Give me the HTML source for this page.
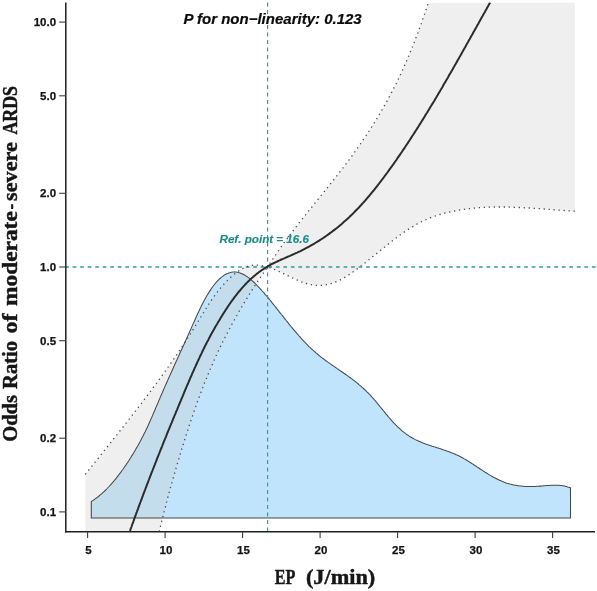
<!DOCTYPE html>
<html>
<head>
<meta charset="utf-8">
<title>RCS plot</title>
<style>
html, body { margin: 0; padding: 0; background: #ffffff; }
body { width: 597px; height: 591px; overflow: hidden; font-family: "Liberation Sans", sans-serif; }
svg { display: block; will-change: transform; }
text { font-family: "Liberation Sans", sans-serif; }
.tick text { font-size: 11.5px; font-weight: bold; fill: #141414; stroke: #141414; stroke-width: 0.25px; }
.serif, .serif text { font-family: "Liberation Serif", serif; font-weight: bold; fill: #161616; stroke: #161616; stroke-width: 0.45px; }
</style>
</head>
<body>
<svg width="597" height="591" viewBox="0 0 597 591">
<defs>
<clipPath id="plot"><rect x="65.8" y="2.4" width="531.2" height="529.3000000000001"/></clipPath>
</defs>
<rect x="0" y="0" width="597" height="591" fill="#ffffff"/>

<!-- density polygon -->
<path d="M91.3 517.9L91.3 501.5L92.3 500.9L93.2 500.3L94.2 499.6L95.1 498.9L96.1 498.3L97.1 497.5L98.0 496.8L99.0 496.0L99.9 495.2L100.9 494.4L101.9 493.6L102.8 492.7L103.8 491.8L104.7 490.9L105.7 490.0L106.7 489.0L107.6 488.0L108.6 487.0L109.5 486.0L110.5 484.9L111.5 483.8L112.4 482.7L113.4 481.6L114.3 480.5L115.3 479.3L116.3 478.1L117.2 476.9L118.2 475.7L119.1 474.4L120.1 473.2L121.1 471.9L122.0 470.5L123.0 469.2L124.0 467.8L124.9 466.4L125.9 465.0L126.8 463.6L127.8 462.2L128.8 460.7L129.7 459.2L130.7 457.7L131.6 456.1L132.6 454.6L133.6 453.0L134.5 451.4L135.5 449.8L136.4 448.1L137.4 446.5L138.4 444.7L139.3 443.0L140.3 441.3L141.2 439.5L142.2 437.6L143.2 435.8L144.1 433.8L145.1 431.9L146.0 429.9L147.0 427.9L148.0 425.8L148.9 423.7L149.9 421.5L150.8 419.4L151.8 417.2L152.8 414.9L153.7 412.7L154.7 410.5L155.6 408.2L156.6 405.9L157.6 403.7L158.5 401.4L159.5 399.2L160.4 396.9L161.4 394.7L162.4 392.5L163.3 390.3L164.3 388.1L165.2 385.9L166.2 383.7L167.2 381.6L168.1 379.4L169.1 377.2L170.0 375.1L171.0 373.0L172.0 370.8L172.9 368.7L173.9 366.6L174.8 364.4L175.8 362.3L176.8 360.2L177.7 358.1L178.7 356.0L179.6 353.8L180.6 351.7L181.6 349.6L182.5 347.5L183.5 345.4L184.5 343.2L185.4 341.1L186.4 339.0L187.3 336.9L188.3 334.7L189.3 332.6L190.2 330.4L191.2 328.3L192.1 326.1L193.1 323.9L194.1 321.8L195.0 319.7L196.0 317.5L196.9 315.4L197.9 313.3L198.9 311.3L199.8 309.3L200.8 307.3L201.7 305.3L202.7 303.4L203.7 301.6L204.6 299.8L205.6 298.0L206.5 296.3L207.5 294.7L208.5 293.1L209.4 291.6L210.4 290.1L211.3 288.7L212.3 287.3L213.3 286.0L214.2 284.7L215.2 283.5L216.1 282.4L217.1 281.3L218.1 280.3L219.0 279.4L220.0 278.5L220.9 277.6L221.9 276.8L222.9 276.1L223.8 275.4L224.8 274.8L225.7 274.3L226.7 273.8L227.7 273.4L228.6 273.0L229.6 272.7L230.5 272.4L231.5 272.2L232.5 272.1L233.4 272.0L234.4 272.0L235.3 272.0L236.3 272.1L237.3 272.2L238.2 272.5L239.2 272.7L240.1 273.0L241.1 273.4L242.1 273.8L243.0 274.3L244.0 274.8L245.0 275.3L245.9 275.9L246.9 276.5L247.8 277.2L248.8 277.9L249.8 278.7L250.7 279.5L251.7 280.3L252.6 281.1L253.6 282.0L254.6 282.9L255.5 283.8L256.5 284.8L257.4 285.8L258.4 286.8L259.4 287.8L260.3 288.8L261.3 289.9L262.2 291.0L263.2 292.0L264.2 293.1L265.1 294.3L266.1 295.4L267.0 296.5L268.0 297.7L269.0 298.9L269.9 300.0L270.9 301.2L271.8 302.4L272.8 303.6L273.8 304.8L274.7 306.0L275.7 307.2L276.6 308.4L277.6 309.6L278.6 310.9L279.5 312.1L280.5 313.3L281.4 314.5L282.4 315.7L283.4 316.9L284.3 318.1L285.3 319.3L286.2 320.5L287.2 321.7L288.2 322.9L289.1 324.1L290.1 325.3L291.0 326.5L292.0 327.6L293.0 328.8L293.9 329.9L294.9 331.1L295.8 332.2L296.8 333.3L297.8 334.4L298.7 335.5L299.7 336.6L300.6 337.7L301.6 338.8L302.6 339.8L303.5 340.8L304.5 341.9L305.5 342.9L306.4 343.9L307.4 344.8L308.3 345.8L309.3 346.8L310.3 347.7L311.2 348.6L312.2 349.5L313.1 350.4L314.1 351.2L315.1 352.1L316.0 352.9L317.0 353.7L317.9 354.5L318.9 355.3L319.9 356.1L320.8 356.8L321.8 357.6L322.7 358.3L323.7 359.0L324.7 359.8L325.6 360.5L326.6 361.2L327.5 361.9L328.5 362.6L329.5 363.2L330.4 363.9L331.4 364.6L332.3 365.3L333.3 365.9L334.3 366.6L335.2 367.2L336.2 367.9L337.1 368.6L338.1 369.2L339.1 369.9L340.0 370.5L341.0 371.2L341.9 371.8L342.9 372.5L343.9 373.2L344.8 373.8L345.8 374.5L346.7 375.2L347.7 375.9L348.7 376.6L349.6 377.3L350.6 378.0L351.5 378.7L352.5 379.4L353.5 380.1L354.4 380.9L355.4 381.6L356.3 382.4L357.3 383.2L358.3 384.0L359.2 384.8L360.2 385.6L361.2 386.4L362.1 387.3L363.1 388.2L364.0 389.0L365.0 389.9L366.0 390.9L366.9 391.8L367.9 392.7L368.8 393.7L369.8 394.7L370.8 395.7L371.7 396.8L372.7 397.8L373.6 398.9L374.6 400.0L375.6 401.2L376.5 402.3L377.5 403.4L378.4 404.6L379.4 405.8L380.4 407.0L381.3 408.2L382.3 409.4L383.2 410.5L384.2 411.7L385.2 412.9L386.1 414.1L387.1 415.2L388.0 416.4L389.0 417.5L390.0 418.6L390.9 419.7L391.9 420.8L392.8 421.8L393.8 422.9L394.8 423.9L395.7 424.9L396.7 425.8L397.6 426.8L398.6 427.7L399.6 428.6L400.5 429.4L401.5 430.3L402.4 431.1L403.4 431.9L404.4 432.7L405.3 433.4L406.3 434.1L407.2 434.8L408.2 435.4L409.2 436.1L410.1 436.7L411.1 437.2L412.0 437.8L413.0 438.3L414.0 438.9L414.9 439.4L415.9 439.9L416.8 440.3L417.8 440.8L418.8 441.2L419.7 441.6L420.7 442.0L421.7 442.4L422.6 442.8L423.6 443.2L424.5 443.5L425.5 443.9L426.5 444.2L427.4 444.6L428.4 444.9L429.3 445.2L430.3 445.6L431.3 445.9L432.2 446.2L433.2 446.5L434.1 446.8L435.1 447.1L436.1 447.4L437.0 447.7L438.0 448.0L438.9 448.3L439.9 448.6L440.9 448.9L441.8 449.2L442.8 449.6L443.7 449.9L444.7 450.2L445.7 450.5L446.6 450.9L447.6 451.2L448.5 451.6L449.5 451.9L450.5 452.3L451.4 452.7L452.4 453.0L453.3 453.4L454.3 453.8L455.3 454.2L456.2 454.7L457.2 455.1L458.1 455.6L459.1 456.0L460.1 456.5L461.0 457.0L462.0 457.5L462.9 458.0L463.9 458.6L464.9 459.1L465.8 459.7L466.8 460.3L467.7 460.9L468.7 461.5L469.7 462.1L470.6 462.7L471.6 463.3L472.5 463.9L473.5 464.5L474.5 465.2L475.4 465.8L476.4 466.4L477.3 467.1L478.3 467.7L479.3 468.3L480.2 469.0L481.2 469.6L482.2 470.2L483.1 470.9L484.1 471.5L485.0 472.1L486.0 472.7L487.0 473.3L487.9 473.9L488.9 474.5L489.8 475.1L490.8 475.6L491.8 476.2L492.7 476.7L493.7 477.3L494.6 477.8L495.6 478.3L496.6 478.8L497.5 479.3L498.5 479.7L499.4 480.2L500.4 480.6L501.4 481.0L502.3 481.4L503.3 481.8L504.2 482.2L505.2 482.5L506.2 482.9L507.1 483.2L508.1 483.5L509.0 483.8L510.0 484.1L511.0 484.3L511.9 484.5L512.9 484.8L513.8 485.0L514.8 485.2L515.8 485.3L516.7 485.5L517.7 485.7L518.6 485.8L519.6 485.9L520.6 486.0L521.5 486.1L522.5 486.2L523.4 486.3L524.4 486.4L525.4 486.4L526.3 486.5L527.3 486.5L528.2 486.5L529.2 486.5L530.2 486.5L531.1 486.5L532.1 486.5L533.0 486.5L534.0 486.5L535.0 486.4L535.9 486.4L536.9 486.3L537.8 486.3L538.8 486.2L539.8 486.1L540.7 486.1L541.7 486.0L542.7 485.9L543.6 485.8L544.6 485.8L545.5 485.7L546.5 485.6L547.5 485.5L548.4 485.5L549.4 485.4L550.3 485.3L551.3 485.3L552.3 485.2L553.2 485.2L554.2 485.2L555.1 485.2L556.1 485.2L557.1 485.2L558.0 485.3L559.0 485.3L559.9 485.4L560.9 485.5L561.9 485.6L562.8 485.8L563.8 486.0L564.7 486.1L565.7 486.4L566.7 486.6L567.6 486.9L568.6 487.2L569.5 487.5L570.5 487.9L570.5 517.9Z" fill="#bfe4fc" stroke="none"/>


<!-- confidence band -->
<g clip-path="url(#plot)">
<path d="M85.3 474.4L86.0 473.5L86.7 472.7L87.4 471.8L88.1 470.9L88.7 470.1L89.4 469.2L90.1 468.4L90.8 467.5L91.5 466.6L92.2 465.8L92.9 464.9L93.6 464.0L94.2 463.2L94.9 462.3L95.6 461.4L96.3 460.6L97.0 459.7L97.7 458.9L98.4 458.0L99.1 457.1L99.8 456.3L100.5 455.4L101.1 454.5L101.8 453.7L102.5 452.8L103.2 452.0L103.9 451.1L104.6 450.2L105.3 449.4L106.0 448.5L106.7 447.6L107.3 446.8L108.0 445.9L108.7 445.0L109.4 444.2L110.1 443.3L110.8 442.5L111.5 441.6L112.2 440.7L112.8 439.9L113.5 439.0L114.2 438.1L114.9 437.3L115.6 436.4L116.3 435.5L117.0 434.7L117.6 433.8L118.3 433.0L119.0 432.1L119.7 431.2L120.4 430.4L121.1 429.5L121.7 428.6L122.4 427.8L123.1 426.9L123.8 426.0L124.5 425.2L125.2 424.3L125.8 423.4L126.5 422.6L127.2 421.7L127.9 420.8L128.6 419.9L129.2 419.1L129.9 418.2L130.6 417.3L131.3 416.5L132.0 415.6L132.6 414.7L133.3 413.9L134.0 413.0L134.7 412.1L135.3 411.2L136.0 410.4L136.7 409.5L137.4 408.6L138.0 407.7L138.7 406.9L139.4 406.0L140.0 405.1L140.7 404.2L141.4 403.4L142.1 402.5L142.7 401.6L143.4 400.7L144.1 399.9L144.7 399.0L145.4 398.1L146.1 397.2L146.7 396.3L147.4 395.5L148.0 394.6L148.7 393.7L149.4 392.8L150.0 391.9L150.7 391.1L151.3 390.2L152.0 389.3L152.7 388.4L153.3 387.5L154.0 386.6L154.6 385.7L155.3 384.9L155.9 384.0L156.6 383.1L157.2 382.2L157.9 381.3L158.5 380.4L159.2 379.5L159.8 378.6L160.5 377.7L161.1 376.8L161.8 376.0L162.4 375.1L163.1 374.2L163.7 373.3L164.4 372.4L165.0 371.5L165.6 370.6L166.3 369.7L166.9 368.8L167.6 367.9L168.2 367.0L168.8 366.1L169.5 365.2L170.1 364.3L170.7 363.4L171.4 362.5L172.0 361.6L172.6 360.6L173.2 359.7L173.9 358.8L174.5 357.9L175.1 357.0L175.7 356.1L176.4 355.2L177.0 354.3L177.6 353.4L178.2 352.5L178.8 351.5L179.4 350.6L180.1 349.7L180.7 348.8L181.3 347.9L181.9 346.9L182.5 346.0L183.1 345.1L183.7 344.2L184.3 343.3L184.9 342.3L185.5 341.4L186.1 340.5L186.7 339.6L187.3 338.6L187.9 337.7L188.5 336.8L189.1 335.8L189.7 334.9L190.3 334.0L190.9 333.0L191.5 332.1L192.1 331.2L192.7 330.2L193.3 329.3L193.9 328.4L194.4 327.4L195.0 326.5L195.6 325.5L196.2 324.6L196.8 323.6L197.3 322.7L197.9 321.7L198.5 320.8L199.1 319.8L199.6 318.9L200.2 318.0L200.8 317.0L201.4 316.1L201.9 315.1L202.5 314.2L203.1 313.2L203.7 312.3L204.3 311.3L204.8 310.4L205.4 309.5L206.0 308.5L206.6 307.6L207.2 306.7L207.8 305.7L208.4 304.8L209.0 303.9L209.6 303.0L210.2 302.0L210.8 301.1L211.4 300.2L212.1 299.3L212.7 298.4L213.3 297.5L214.0 296.6L214.6 295.7L215.3 294.8L215.9 294.0L216.6 293.1L217.2 292.2L217.9 291.3L218.6 290.5L219.3 289.6L220.0 288.8L220.7 287.9L221.4 287.1L222.1 286.2L222.8 285.4L223.5 284.6L224.3 283.8L225.0 283.0L225.8 282.2L226.5 281.4L227.3 280.6L228.1 279.8L228.9 279.0L229.7 278.3L230.5 277.5L231.3 276.8L232.2 276.0L233.0 275.3L233.9 274.6L234.7 273.9L235.6 273.2L236.5 272.5L237.4 271.9L238.3 271.3L239.2 270.6L240.1 270.1L241.1 269.5L242.0 269.0L243.0 268.4L243.9 268.0L244.9 267.5L245.9 267.1L246.9 266.7L247.9 266.4L248.9 266.1L249.9 265.8L251.0 265.5L252.0 265.4L253.1 265.2L254.1 265.1L255.2 265.0L256.3 265.0L257.4 265.1L258.5 265.2L259.6 265.3L260.7 265.5L261.8 265.7L263.0 265.9L264.1 266.1L265.3 266.4L266.4 266.7L267.6 267.0L268.2 266.1L268.7 265.2L269.3 264.4L269.8 263.5L270.4 262.6L271.0 261.7L271.5 260.9L272.1 260.0L272.7 259.1L273.2 258.3L273.8 257.4L274.4 256.5L275.0 255.7L275.6 254.8L276.1 254.0L276.7 253.1L277.3 252.3L277.9 251.4L278.5 250.6L279.1 249.7L279.7 248.9L280.3 248.0L280.9 247.2L281.5 246.3L282.1 245.5L282.7 244.6L283.3 243.8L283.9 242.9L284.5 242.1L285.2 241.3L285.8 240.4L286.4 239.6L287.0 238.8L287.6 237.9L288.3 237.1L288.9 236.3L289.5 235.4L290.1 234.6L290.8 233.8L291.4 232.9L292.0 232.1L292.6 231.3L293.3 230.5L293.9 229.6L294.5 228.8L295.2 228.0L295.8 227.2L296.5 226.3L297.1 225.5L297.7 224.7L298.4 223.9L299.0 223.0L299.7 222.2L300.3 221.4L300.9 220.6L301.6 219.8L302.2 219.0L302.9 218.1L303.5 217.3L304.2 216.5L304.8 215.7L305.5 214.9L306.1 214.1L306.8 213.3L307.4 212.4L308.1 211.6L308.7 210.8L309.4 210.0L310.0 209.2L310.7 208.4L311.4 207.6L312.0 206.8L312.7 205.9L313.3 205.1L314.0 204.3L314.6 203.5L315.3 202.7L315.9 201.9L316.6 201.1L317.3 200.3L317.9 199.5L318.6 198.6L319.2 197.8L319.9 197.0L320.5 196.2L321.2 195.4L321.9 194.6L322.5 193.8L323.2 193.0L323.8 192.2L324.5 191.3L325.1 190.5L325.8 189.7L326.4 188.9L327.1 188.1L327.7 187.3L328.4 186.5L329.1 185.6L329.7 184.8L330.4 184.0L331.0 183.2L331.7 182.4L332.3 181.6L333.0 180.8L333.6 179.9L334.3 179.1L334.9 178.3L335.5 177.5L336.2 176.7L336.8 175.8L337.5 175.0L338.1 174.2L338.8 173.4L339.4 172.5L340.0 171.7L340.7 170.9L341.3 170.1L342.0 169.2L342.6 168.4L343.2 167.6L343.9 166.8L344.5 165.9L345.1 165.1L345.7 164.3L346.4 163.4L347.0 162.6L347.6 161.8L348.2 160.9L348.9 160.1L349.5 159.3L350.1 158.4L350.7 157.6L351.3 156.7L352.0 155.9L352.6 155.1L353.2 154.2L353.8 153.4L354.4 152.5L355.0 151.7L355.6 150.8L356.2 150.0L356.8 149.1L357.4 148.3L358.0 147.4L358.6 146.6L359.2 145.7L359.8 144.9L360.4 144.0L361.0 143.1L361.6 142.3L362.2 141.4L362.7 140.6L363.3 139.7L363.9 138.8L364.5 138.0L365.1 137.1L365.6 136.2L366.2 135.4L366.8 134.5L367.4 133.6L367.9 132.8L368.5 131.9L369.1 131.0L369.6 130.1L370.2 129.3L370.8 128.4L371.3 127.5L371.9 126.6L372.4 125.7L373.0 124.9L373.5 124.0L374.1 123.1L374.6 122.2L375.2 121.3L375.7 120.4L376.3 119.6L376.8 118.7L377.3 117.8L377.9 116.9L378.4 116.0L378.9 115.1L379.5 114.2L380.0 113.3L380.5 112.4L381.0 111.5L381.6 110.6L382.1 109.7L382.6 108.8L383.1 107.9L383.6 107.0L384.1 106.1L384.7 105.2L385.2 104.3L385.7 103.4L386.2 102.5L386.7 101.6L387.2 100.7L387.7 99.8L388.2 98.9L388.7 98.0L389.1 97.1L389.6 96.1L390.1 95.2L390.6 94.3L391.1 93.4L391.6 92.5L392.0 91.6L392.5 90.6L393.0 89.7L393.5 88.8L393.9 87.9L394.4 87.0L394.9 86.0L395.3 85.1L395.8 84.2L396.3 83.2L396.7 82.3L397.2 81.4L397.6 80.5L398.1 79.5L398.5 78.6L399.0 77.7L399.4 76.7L399.8 75.8L400.3 74.9L400.7 73.9L401.2 73.0L401.6 72.0L402.0 71.1L402.4 70.2L402.9 69.2L403.3 68.3L403.7 67.3L404.1 66.4L404.6 65.4L405.0 64.5L405.4 63.5L405.8 62.6L406.2 61.7L406.6 60.7L407.1 59.7L407.5 58.8L407.9 57.8L408.3 56.9L408.7 55.9L409.1 55.0L409.5 54.0L409.9 53.1L410.3 52.1L410.7 51.1L411.0 50.2L411.4 49.2L411.8 48.3L412.2 47.3L412.6 46.3L413.0 45.4L413.4 44.4L413.8 43.4L414.1 42.5L414.5 41.5L414.9 40.5L415.3 39.6L415.6 38.6L416.0 37.6L416.4 36.6L416.7 35.7L417.1 34.7L417.5 33.7L417.9 32.7L418.2 31.7L418.6 30.8L418.9 29.8L419.3 28.8L419.7 27.8L420.0 26.8L420.4 25.9L420.7 24.9L421.1 23.9L421.4 22.9L421.8 21.9L422.1 20.9L422.5 19.9L422.8 18.9L423.2 18.0L423.5 17.0L423.9 16.0L424.2 15.0L424.6 14.0L424.9 13.0L425.3 12.0L425.6 11.0L425.9 10.0L426.3 9.0L426.6 8.0L426.9 7.0L427.3 6.0L427.6 5.0L428.0 4.0L428.3 3.0L574.9 2.4L574.9 211.2L573.9 211.1L573.0 211.1L572.0 211.0L571.0 211.0L570.1 210.9L569.1 210.8L568.2 210.8L567.2 210.7L566.2 210.6L565.3 210.6L564.3 210.5L563.3 210.4L562.4 210.4L561.4 210.3L560.5 210.2L559.5 210.2L558.5 210.1L557.6 210.0L556.6 210.0L555.6 209.9L554.7 209.8L553.7 209.7L552.7 209.7L551.8 209.6L550.8 209.5L549.9 209.4L548.9 209.4L547.9 209.3L547.0 209.2L546.0 209.2L545.0 209.1L544.1 209.0L543.1 209.0L542.1 208.9L541.2 208.8L540.2 208.7L539.3 208.7L538.3 208.6L537.3 208.5L536.4 208.5L535.4 208.4L534.4 208.3L533.5 208.3L532.5 208.2L531.6 208.2L530.6 208.1L529.6 208.0L528.7 208.0L527.7 207.9L526.7 207.9L525.8 207.8L524.8 207.8L523.8 207.7L522.9 207.7L521.9 207.6L521.0 207.6L520.0 207.5L519.0 207.5L518.1 207.4L517.1 207.4L516.1 207.3L515.2 207.3L514.2 207.3L513.2 207.2L512.3 207.2L511.3 207.2L510.4 207.1L509.4 207.1L508.4 207.1L507.5 207.1L506.5 207.1L505.5 207.0L504.6 207.0L503.6 207.0L502.7 207.0L501.7 207.0L500.7 207.0L499.8 207.0L498.8 207.0L497.8 207.0L496.9 207.0L495.9 207.0L494.9 207.0L494.0 207.1L493.0 207.1L492.1 207.1L491.1 207.1L490.1 207.2L489.2 207.2L488.2 207.2L487.2 207.3L486.3 207.3L485.3 207.4L484.3 207.4L483.4 207.5L482.4 207.5L481.5 207.6L480.5 207.6L479.5 207.7L478.6 207.8L477.6 207.9L476.6 207.9L475.7 208.0L474.7 208.1L473.8 208.2L472.8 208.3L471.8 208.4L470.9 208.5L469.9 208.6L468.9 208.7L468.0 208.8L467.0 209.0L466.0 209.1L465.1 209.2L464.1 209.3L463.2 209.5L462.2 209.6L461.2 209.8L460.3 209.9L459.3 210.1L458.3 210.3L457.4 210.4L456.4 210.6L455.4 210.8L454.5 211.0L453.5 211.1L452.6 211.3L451.6 211.5L450.6 211.7L449.7 212.0L448.7 212.2L447.7 212.4L446.8 212.6L445.8 212.9L444.9 213.1L443.9 213.4L442.9 213.6L442.0 213.9L441.0 214.2L440.0 214.5L439.1 214.7L438.1 215.0L437.1 215.4L436.2 215.7L435.2 216.0L434.3 216.3L433.3 216.7L432.3 217.0L431.4 217.4L430.4 217.8L429.4 218.1L428.5 218.5L427.5 218.9L426.5 219.4L425.6 219.8L424.6 220.2L423.7 220.7L422.7 221.1L421.7 221.6L420.8 222.1L419.8 222.6L418.8 223.1L417.9 223.6L416.9 224.1L416.0 224.7L415.0 225.2L414.0 225.8L413.1 226.4L412.1 226.9L411.1 227.5L410.2 228.1L409.2 228.8L408.2 229.4L407.3 230.0L406.3 230.7L405.4 231.3L404.4 232.0L403.4 232.7L402.5 233.4L401.5 234.0L400.5 234.7L399.6 235.4L398.6 236.2L397.6 236.9L396.7 237.6L395.7 238.3L394.8 239.1L393.8 239.8L392.8 240.5L391.9 241.3L390.9 242.0L389.9 242.8L389.0 243.6L388.0 244.3L387.1 245.1L386.1 245.9L385.1 246.6L384.2 247.4L383.2 248.2L382.2 249.0L381.3 249.8L380.3 250.5L379.3 251.3L378.4 252.1L377.4 252.9L376.5 253.7L375.5 254.5L374.5 255.3L373.6 256.0L372.6 256.8L371.6 257.6L370.7 258.4L369.7 259.1L368.7 259.9L367.8 260.7L366.8 261.5L365.9 262.2L364.9 263.0L363.9 263.7L363.0 264.5L362.0 265.2L361.0 266.0L360.1 266.7L359.1 267.5L358.2 268.2L357.2 268.9L356.2 269.6L355.3 270.3L354.3 271.0L353.3 271.7L352.4 272.4L351.4 273.1L350.4 273.7L349.5 274.4L348.5 275.0L347.6 275.6L346.6 276.2L345.6 276.8L344.7 277.4L343.7 278.0L342.7 278.5L341.8 279.1L340.8 279.6L339.8 280.1L338.9 280.5L337.9 281.0L337.0 281.4L336.0 281.8L335.0 282.2L334.1 282.6L333.1 282.9L332.1 283.3L331.2 283.6L330.2 283.8L329.3 284.1L328.3 284.3L327.3 284.6L326.4 284.7L325.4 284.9L324.4 285.1L323.5 285.2L322.5 285.3L321.5 285.4L320.6 285.4L319.6 285.4L318.7 285.5L317.7 285.4L316.7 285.4L315.8 285.3L314.8 285.3L313.8 285.1L312.9 285.0L311.9 284.9L310.9 284.7L310.0 284.5L309.0 284.2L308.1 284.0L307.1 283.7L306.1 283.5L305.2 283.2L304.2 282.8L303.2 282.5L302.3 282.2L301.3 281.8L300.4 281.4L299.4 281.0L298.4 280.6L297.5 280.2L296.5 279.8L295.5 279.3L294.6 278.9L293.6 278.5L292.6 278.0L291.7 277.6L290.7 277.1L289.8 276.6L288.8 276.2L287.8 275.7L286.9 275.2L285.9 274.7L284.9 274.3L284.0 273.8L283.0 273.3L282.0 272.9L281.1 272.4L280.1 272.0L279.2 271.5L278.2 271.1L277.2 270.6L276.3 270.2L275.3 269.8L274.3 269.4L273.4 269.0L272.4 268.6L271.5 268.3L270.5 267.9L269.5 267.6L268.6 267.3L267.6 267.0L267.1 267.8L266.5 268.6L265.9 269.4L265.4 270.1L264.8 270.9L264.3 271.7L263.7 272.5L263.2 273.3L262.6 274.1L262.1 274.9L261.6 275.7L261.0 276.5L260.5 277.3L259.9 278.1L259.4 278.9L258.9 279.7L258.3 280.5L257.8 281.3L257.3 282.1L256.7 282.9L256.2 283.7L255.7 284.5L255.1 285.3L254.6 286.1L254.1 286.9L253.6 287.7L253.0 288.5L252.5 289.3L252.0 290.1L251.5 291.0L251.0 291.8L250.5 292.6L249.9 293.4L249.4 294.2L248.9 295.0L248.4 295.9L247.9 296.7L247.4 297.5L246.9 298.3L246.4 299.1L245.9 300.0L245.4 300.8L244.9 301.6L244.4 302.4L243.9 303.3L243.4 304.1L242.9 304.9L242.4 305.7L241.9 306.6L241.4 307.4L240.9 308.2L240.5 309.1L240.0 309.9L239.5 310.7L239.0 311.6L238.5 312.4L238.0 313.2L237.6 314.1L237.1 314.9L236.6 315.8L236.1 316.6L235.7 317.4L235.2 318.3L234.7 319.1L234.3 320.0L233.8 320.8L233.3 321.7L232.9 322.5L232.4 323.4L231.9 324.2L231.5 325.1L231.0 325.9L230.6 326.8L230.1 327.6L229.7 328.5L229.2 329.3L228.8 330.2L228.3 331.0L227.9 331.9L227.4 332.7L227.0 333.6L226.5 334.4L226.1 335.3L225.7 336.2L225.2 337.0L224.8 337.9L224.4 338.7L223.9 339.6L223.5 340.5L223.1 341.3L222.6 342.2L222.2 343.0L221.8 343.9L221.4 344.8L220.9 345.6L220.5 346.5L220.1 347.4L219.7 348.2L219.3 349.1L218.9 350.0L218.4 350.9L218.0 351.7L217.6 352.6L217.2 353.5L216.8 354.3L216.4 355.2L216.0 356.1L215.6 357.0L215.2 357.8L214.8 358.7L214.4 359.6L214.0 360.5L213.6 361.4L213.2 362.2L212.8 363.1L212.5 364.0L212.1 364.9L211.7 365.8L211.3 366.6L210.9 367.5L210.5 368.4L210.2 369.3L209.8 370.2L209.4 371.1L209.0 372.0L208.7 372.8L208.3 373.7L207.9 374.6L207.5 375.5L207.2 376.4L206.8 377.3L206.5 378.2L206.1 379.1L205.7 380.0L205.4 380.8L205.0 381.7L204.7 382.6L204.3 383.5L204.0 384.4L203.6 385.3L203.3 386.2L202.9 387.1L202.6 388.0L202.2 388.9L201.9 389.8L201.5 390.7L201.2 391.6L200.9 392.5L200.5 393.4L200.2 394.3L199.9 395.2L199.5 396.1L199.2 397.0L198.9 397.9L198.5 398.8L198.2 399.7L197.9 400.6L197.5 401.5L197.2 402.4L196.9 403.3L196.6 404.2L196.2 405.1L195.9 406.0L195.6 406.9L195.3 407.8L195.0 408.7L194.7 409.6L194.3 410.6L194.0 411.5L193.7 412.4L193.4 413.3L193.1 414.2L192.8 415.1L192.5 416.0L192.2 416.9L191.8 417.8L191.5 418.7L191.2 419.7L190.9 420.6L190.6 421.5L190.3 422.4L190.0 423.3L189.7 424.2L189.4 425.1L189.1 426.0L188.8 427.0L188.5 427.9L188.2 428.8L187.9 429.7L187.6 430.6L187.3 431.5L187.0 432.5L186.7 433.4L186.4 434.3L186.1 435.2L185.9 436.1L185.6 437.0L185.3 438.0L185.0 438.9L184.7 439.8L184.4 440.7L184.1 441.6L183.8 442.6L183.5 443.5L183.2 444.4L183.0 445.3L182.7 446.3L182.4 447.2L182.1 448.1L181.8 449.0L181.5 449.9L181.2 450.9L181.0 451.8L180.7 452.7L180.4 453.6L180.1 454.6L179.8 455.5L179.6 456.4L179.3 457.3L179.0 458.3L178.7 459.2L178.4 460.1L178.2 461.0L177.9 462.0L177.6 462.9L177.3 463.8L177.1 464.7L176.8 465.7L176.5 466.6L176.3 467.5L176.0 468.4L175.7 469.4L175.4 470.3L175.2 471.2L174.9 472.1L174.6 473.1L174.4 474.0L174.1 474.9L173.8 475.9L173.6 476.8L173.3 477.7L173.0 478.6L172.8 479.6L172.5 480.5L172.3 481.4L172.0 482.4L171.7 483.3L171.5 484.2L171.2 485.2L171.0 486.1L170.7 487.0L170.4 487.9L170.2 488.9L169.9 489.8L169.7 490.7L169.4 491.7L169.2 492.6L168.9 493.5L168.7 494.5L168.4 495.4L168.2 496.3L167.9 497.2L167.7 498.2L167.4 499.1L167.2 500.0L166.9 501.0L166.7 501.9L166.4 502.8L166.2 503.8L165.9 504.7L165.7 505.6L165.5 506.6L165.2 507.5L165.0 508.4L164.7 509.3L164.5 510.3L164.3 511.2L164.0 512.1L163.8 513.1L163.5 514.0L163.3 514.9L163.1 515.9L162.8 516.8L162.6 517.7L162.4 518.7L162.1 519.6L161.9 520.5L161.7 521.5L161.4 522.4L161.2 523.3L161.0 524.2L160.8 525.2L160.5 526.1L160.3 527.0L160.1 528.0L159.9 528.9L159.6 529.8L159.4 530.8L159.2 531.7L85.3 531.7Z" fill="rgba(206,206,206,0.328)" stroke="none"/>
</g>

<!-- density outline -->
<path d="M91.3 517.9L91.3 501.5L92.3 500.9L93.2 500.3L94.2 499.6L95.1 498.9L96.1 498.3L97.1 497.5L98.0 496.8L99.0 496.0L99.9 495.2L100.9 494.4L101.9 493.6L102.8 492.7L103.8 491.8L104.7 490.9L105.7 490.0L106.7 489.0L107.6 488.0L108.6 487.0L109.5 486.0L110.5 484.9L111.5 483.8L112.4 482.7L113.4 481.6L114.3 480.5L115.3 479.3L116.3 478.1L117.2 476.9L118.2 475.7L119.1 474.4L120.1 473.2L121.1 471.9L122.0 470.5L123.0 469.2L124.0 467.8L124.9 466.4L125.9 465.0L126.8 463.6L127.8 462.2L128.8 460.7L129.7 459.2L130.7 457.7L131.6 456.1L132.6 454.6L133.6 453.0L134.5 451.4L135.5 449.8L136.4 448.1L137.4 446.5L138.4 444.7L139.3 443.0L140.3 441.3L141.2 439.5L142.2 437.6L143.2 435.8L144.1 433.8L145.1 431.9L146.0 429.9L147.0 427.9L148.0 425.8L148.9 423.7L149.9 421.5L150.8 419.4L151.8 417.2L152.8 414.9L153.7 412.7L154.7 410.5L155.6 408.2L156.6 405.9L157.6 403.7L158.5 401.4L159.5 399.2L160.4 396.9L161.4 394.7L162.4 392.5L163.3 390.3L164.3 388.1L165.2 385.9L166.2 383.7L167.2 381.6L168.1 379.4L169.1 377.2L170.0 375.1L171.0 373.0L172.0 370.8L172.9 368.7L173.9 366.6L174.8 364.4L175.8 362.3L176.8 360.2L177.7 358.1L178.7 356.0L179.6 353.8L180.6 351.7L181.6 349.6L182.5 347.5L183.5 345.4L184.5 343.2L185.4 341.1L186.4 339.0L187.3 336.9L188.3 334.7L189.3 332.6L190.2 330.4L191.2 328.3L192.1 326.1L193.1 323.9L194.1 321.8L195.0 319.7L196.0 317.5L196.9 315.4L197.9 313.3L198.9 311.3L199.8 309.3L200.8 307.3L201.7 305.3L202.7 303.4L203.7 301.6L204.6 299.8L205.6 298.0L206.5 296.3L207.5 294.7L208.5 293.1L209.4 291.6L210.4 290.1L211.3 288.7L212.3 287.3L213.3 286.0L214.2 284.7L215.2 283.5L216.1 282.4L217.1 281.3L218.1 280.3L219.0 279.4L220.0 278.5L220.9 277.6L221.9 276.8L222.9 276.1L223.8 275.4L224.8 274.8L225.7 274.3L226.7 273.8L227.7 273.4L228.6 273.0L229.6 272.7L230.5 272.4L231.5 272.2L232.5 272.1L233.4 272.0L234.4 272.0L235.3 272.0L236.3 272.1L237.3 272.2L238.2 272.5L239.2 272.7L240.1 273.0L241.1 273.4L242.1 273.8L243.0 274.3L244.0 274.8L245.0 275.3L245.9 275.9L246.9 276.5L247.8 277.2L248.8 277.9L249.8 278.7L250.7 279.5L251.7 280.3L252.6 281.1L253.6 282.0L254.6 282.9L255.5 283.8L256.5 284.8L257.4 285.8L258.4 286.8L259.4 287.8L260.3 288.8L261.3 289.9L262.2 291.0L263.2 292.0L264.2 293.1L265.1 294.3L266.1 295.4L267.0 296.5L268.0 297.7L269.0 298.9L269.9 300.0L270.9 301.2L271.8 302.4L272.8 303.6L273.8 304.8L274.7 306.0L275.7 307.2L276.6 308.4L277.6 309.6L278.6 310.9L279.5 312.1L280.5 313.3L281.4 314.5L282.4 315.7L283.4 316.9L284.3 318.1L285.3 319.3L286.2 320.5L287.2 321.7L288.2 322.9L289.1 324.1L290.1 325.3L291.0 326.5L292.0 327.6L293.0 328.8L293.9 329.9L294.9 331.1L295.8 332.2L296.8 333.3L297.8 334.4L298.7 335.5L299.7 336.6L300.6 337.7L301.6 338.8L302.6 339.8L303.5 340.8L304.5 341.9L305.5 342.9L306.4 343.9L307.4 344.8L308.3 345.8L309.3 346.8L310.3 347.7L311.2 348.6L312.2 349.5L313.1 350.4L314.1 351.2L315.1 352.1L316.0 352.9L317.0 353.7L317.9 354.5L318.9 355.3L319.9 356.1L320.8 356.8L321.8 357.6L322.7 358.3L323.7 359.0L324.7 359.8L325.6 360.5L326.6 361.2L327.5 361.9L328.5 362.6L329.5 363.2L330.4 363.9L331.4 364.6L332.3 365.3L333.3 365.9L334.3 366.6L335.2 367.2L336.2 367.9L337.1 368.6L338.1 369.2L339.1 369.9L340.0 370.5L341.0 371.2L341.9 371.8L342.9 372.5L343.9 373.2L344.8 373.8L345.8 374.5L346.7 375.2L347.7 375.9L348.7 376.6L349.6 377.3L350.6 378.0L351.5 378.7L352.5 379.4L353.5 380.1L354.4 380.9L355.4 381.6L356.3 382.4L357.3 383.2L358.3 384.0L359.2 384.8L360.2 385.6L361.2 386.4L362.1 387.3L363.1 388.2L364.0 389.0L365.0 389.9L366.0 390.9L366.9 391.8L367.9 392.7L368.8 393.7L369.8 394.7L370.8 395.7L371.7 396.8L372.7 397.8L373.6 398.9L374.6 400.0L375.6 401.2L376.5 402.3L377.5 403.4L378.4 404.6L379.4 405.8L380.4 407.0L381.3 408.2L382.3 409.4L383.2 410.5L384.2 411.7L385.2 412.9L386.1 414.1L387.1 415.2L388.0 416.4L389.0 417.5L390.0 418.6L390.9 419.7L391.9 420.8L392.8 421.8L393.8 422.9L394.8 423.9L395.7 424.9L396.7 425.8L397.6 426.8L398.6 427.7L399.6 428.6L400.5 429.4L401.5 430.3L402.4 431.1L403.4 431.9L404.4 432.7L405.3 433.4L406.3 434.1L407.2 434.8L408.2 435.4L409.2 436.1L410.1 436.7L411.1 437.2L412.0 437.8L413.0 438.3L414.0 438.9L414.9 439.4L415.9 439.9L416.8 440.3L417.8 440.8L418.8 441.2L419.7 441.6L420.7 442.0L421.7 442.4L422.6 442.8L423.6 443.2L424.5 443.5L425.5 443.9L426.5 444.2L427.4 444.6L428.4 444.9L429.3 445.2L430.3 445.6L431.3 445.9L432.2 446.2L433.2 446.5L434.1 446.8L435.1 447.1L436.1 447.4L437.0 447.7L438.0 448.0L438.9 448.3L439.9 448.6L440.9 448.9L441.8 449.2L442.8 449.6L443.7 449.9L444.7 450.2L445.7 450.5L446.6 450.9L447.6 451.2L448.5 451.6L449.5 451.9L450.5 452.3L451.4 452.7L452.4 453.0L453.3 453.4L454.3 453.8L455.3 454.2L456.2 454.7L457.2 455.1L458.1 455.6L459.1 456.0L460.1 456.5L461.0 457.0L462.0 457.5L462.9 458.0L463.9 458.6L464.9 459.1L465.8 459.7L466.8 460.3L467.7 460.9L468.7 461.5L469.7 462.1L470.6 462.7L471.6 463.3L472.5 463.9L473.5 464.5L474.5 465.2L475.4 465.8L476.4 466.4L477.3 467.1L478.3 467.7L479.3 468.3L480.2 469.0L481.2 469.6L482.2 470.2L483.1 470.9L484.1 471.5L485.0 472.1L486.0 472.7L487.0 473.3L487.9 473.9L488.9 474.5L489.8 475.1L490.8 475.6L491.8 476.2L492.7 476.7L493.7 477.3L494.6 477.8L495.6 478.3L496.6 478.8L497.5 479.3L498.5 479.7L499.4 480.2L500.4 480.6L501.4 481.0L502.3 481.4L503.3 481.8L504.2 482.2L505.2 482.5L506.2 482.9L507.1 483.2L508.1 483.5L509.0 483.8L510.0 484.1L511.0 484.3L511.9 484.5L512.9 484.8L513.8 485.0L514.8 485.2L515.8 485.3L516.7 485.5L517.7 485.7L518.6 485.8L519.6 485.9L520.6 486.0L521.5 486.1L522.5 486.2L523.4 486.3L524.4 486.4L525.4 486.4L526.3 486.5L527.3 486.5L528.2 486.5L529.2 486.5L530.2 486.5L531.1 486.5L532.1 486.5L533.0 486.5L534.0 486.5L535.0 486.4L535.9 486.4L536.9 486.3L537.8 486.3L538.8 486.2L539.8 486.1L540.7 486.1L541.7 486.0L542.7 485.9L543.6 485.8L544.6 485.8L545.5 485.7L546.5 485.6L547.5 485.5L548.4 485.5L549.4 485.4L550.3 485.3L551.3 485.3L552.3 485.2L553.2 485.2L554.2 485.2L555.1 485.2L556.1 485.2L557.1 485.2L558.0 485.3L559.0 485.3L559.9 485.4L560.9 485.5L561.9 485.6L562.8 485.8L563.8 486.0L564.7 486.1L565.7 486.4L566.7 486.6L567.6 486.9L568.6 487.2L569.5 487.5L570.5 487.9L570.5 517.9Z" fill="none" stroke="#484848" stroke-width="1.05" stroke-linejoin="miter"/>

<!-- reference lines -->
<g stroke="#2c9f9b" fill="none">
<line x1="65.1" y1="267.0" x2="597" y2="267.0" stroke-width="1.35" stroke-dasharray="3.7 3.826"/>
<line x1="267.6" y1="2.4" x2="267.6" y2="531.7" stroke-width="1.15" stroke-dasharray="4 3.5"/>
</g>

<!-- CI dotted + main curve -->
<g clip-path="url(#plot)" fill="none">
<path d="M85.3 474.4L86.0 473.5L86.7 472.7L87.4 471.8L88.1 470.9L88.7 470.1L89.4 469.2L90.1 468.4L90.8 467.5L91.5 466.6L92.2 465.8L92.9 464.9L93.6 464.0L94.2 463.2L94.9 462.3L95.6 461.4L96.3 460.6L97.0 459.7L97.7 458.9L98.4 458.0L99.1 457.1L99.8 456.3L100.5 455.4L101.1 454.5L101.8 453.7L102.5 452.8L103.2 452.0L103.9 451.1L104.6 450.2L105.3 449.4L106.0 448.5L106.7 447.6L107.3 446.8L108.0 445.9L108.7 445.0L109.4 444.2L110.1 443.3L110.8 442.5L111.5 441.6L112.2 440.7L112.8 439.9L113.5 439.0L114.2 438.1L114.9 437.3L115.6 436.4L116.3 435.5L117.0 434.7L117.6 433.8L118.3 433.0L119.0 432.1L119.7 431.2L120.4 430.4L121.1 429.5L121.7 428.6L122.4 427.8L123.1 426.9L123.8 426.0L124.5 425.2L125.2 424.3L125.8 423.4L126.5 422.6L127.2 421.7L127.9 420.8L128.6 419.9L129.2 419.1L129.9 418.2L130.6 417.3L131.3 416.5L132.0 415.6L132.6 414.7L133.3 413.9L134.0 413.0L134.7 412.1L135.3 411.2L136.0 410.4L136.7 409.5L137.4 408.6L138.0 407.7L138.7 406.9L139.4 406.0L140.0 405.1L140.7 404.2L141.4 403.4L142.1 402.5L142.7 401.6L143.4 400.7L144.1 399.9L144.7 399.0L145.4 398.1L146.1 397.2L146.7 396.3L147.4 395.5L148.0 394.6L148.7 393.7L149.4 392.8L150.0 391.9L150.7 391.1L151.3 390.2L152.0 389.3L152.7 388.4L153.3 387.5L154.0 386.6L154.6 385.7L155.3 384.9L155.9 384.0L156.6 383.1L157.2 382.2L157.9 381.3L158.5 380.4L159.2 379.5L159.8 378.6L160.5 377.7L161.1 376.8L161.8 376.0L162.4 375.1L163.1 374.2L163.7 373.3L164.4 372.4L165.0 371.5L165.6 370.6L166.3 369.7L166.9 368.8L167.6 367.9L168.2 367.0L168.8 366.1L169.5 365.2L170.1 364.3L170.7 363.4L171.4 362.5L172.0 361.6L172.6 360.6L173.2 359.7L173.9 358.8L174.5 357.9L175.1 357.0L175.7 356.1L176.4 355.2L177.0 354.3L177.6 353.4L178.2 352.5L178.8 351.5L179.4 350.6L180.1 349.7L180.7 348.8L181.3 347.9L181.9 346.9L182.5 346.0L183.1 345.1L183.7 344.2L184.3 343.3L184.9 342.3L185.5 341.4L186.1 340.5L186.7 339.6L187.3 338.6L187.9 337.7L188.5 336.8L189.1 335.8L189.7 334.9L190.3 334.0L190.9 333.0L191.5 332.1L192.1 331.2L192.7 330.2L193.3 329.3L193.9 328.4L194.4 327.4L195.0 326.5L195.6 325.5L196.2 324.6L196.8 323.6L197.3 322.7L197.9 321.7L198.5 320.8L199.1 319.8L199.6 318.9L200.2 318.0L200.8 317.0L201.4 316.1L201.9 315.1L202.5 314.2L203.1 313.2L203.7 312.3L204.3 311.3L204.8 310.4L205.4 309.5L206.0 308.5L206.6 307.6L207.2 306.7L207.8 305.7L208.4 304.8L209.0 303.9L209.6 303.0L210.2 302.0L210.8 301.1L211.4 300.2L212.1 299.3L212.7 298.4L213.3 297.5L214.0 296.6L214.6 295.7L215.3 294.8L215.9 294.0L216.6 293.1L217.2 292.2L217.9 291.3L218.6 290.5L219.3 289.6L220.0 288.8L220.7 287.9L221.4 287.1L222.1 286.2L222.8 285.4L223.5 284.6L224.3 283.8L225.0 283.0L225.8 282.2L226.5 281.4L227.3 280.6L228.1 279.8L228.9 279.0L229.7 278.3L230.5 277.5L231.3 276.8L232.2 276.0L233.0 275.3L233.9 274.6L234.7 273.9L235.6 273.2L236.5 272.5L237.4 271.9L238.3 271.3L239.2 270.6L240.1 270.1L241.1 269.5L242.0 269.0L243.0 268.4L243.9 268.0L244.9 267.5L245.9 267.1L246.9 266.7L247.9 266.4L248.9 266.1L249.9 265.8L251.0 265.5L252.0 265.4L253.1 265.2L254.1 265.1L255.2 265.0L256.3 265.0L257.4 265.1L258.5 265.2L259.6 265.3L260.7 265.5L261.8 265.7L263.0 265.9L264.1 266.1L265.3 266.4L266.4 266.7L267.6 267.0L268.2 266.1L268.7 265.2L269.3 264.4L269.8 263.5L270.4 262.6L271.0 261.7L271.5 260.9L272.1 260.0L272.7 259.1L273.2 258.3L273.8 257.4L274.4 256.5L275.0 255.7L275.6 254.8L276.1 254.0L276.7 253.1L277.3 252.3L277.9 251.4L278.5 250.6L279.1 249.7L279.7 248.9L280.3 248.0L280.9 247.2L281.5 246.3L282.1 245.5L282.7 244.6L283.3 243.8L283.9 242.9L284.5 242.1L285.2 241.3L285.8 240.4L286.4 239.6L287.0 238.8L287.6 237.9L288.3 237.1L288.9 236.3L289.5 235.4L290.1 234.6L290.8 233.8L291.4 232.9L292.0 232.1L292.6 231.3L293.3 230.5L293.9 229.6L294.5 228.8L295.2 228.0L295.8 227.2L296.5 226.3L297.1 225.5L297.7 224.7L298.4 223.9L299.0 223.0L299.7 222.2L300.3 221.4L300.9 220.6L301.6 219.8L302.2 219.0L302.9 218.1L303.5 217.3L304.2 216.5L304.8 215.7L305.5 214.9L306.1 214.1L306.8 213.3L307.4 212.4L308.1 211.6L308.7 210.8L309.4 210.0L310.0 209.2L310.7 208.4L311.4 207.6L312.0 206.8L312.7 205.9L313.3 205.1L314.0 204.3L314.6 203.5L315.3 202.7L315.9 201.9L316.6 201.1L317.3 200.3L317.9 199.5L318.6 198.6L319.2 197.8L319.9 197.0L320.5 196.2L321.2 195.4L321.9 194.6L322.5 193.8L323.2 193.0L323.8 192.2L324.5 191.3L325.1 190.5L325.8 189.7L326.4 188.9L327.1 188.1L327.7 187.3L328.4 186.5L329.1 185.6L329.7 184.8L330.4 184.0L331.0 183.2L331.7 182.4L332.3 181.6L333.0 180.8L333.6 179.9L334.3 179.1L334.9 178.3L335.5 177.5L336.2 176.7L336.8 175.8L337.5 175.0L338.1 174.2L338.8 173.4L339.4 172.5L340.0 171.7L340.7 170.9L341.3 170.1L342.0 169.2L342.6 168.4L343.2 167.6L343.9 166.8L344.5 165.9L345.1 165.1L345.7 164.3L346.4 163.4L347.0 162.6L347.6 161.8L348.2 160.9L348.9 160.1L349.5 159.3L350.1 158.4L350.7 157.6L351.3 156.7L352.0 155.9L352.6 155.1L353.2 154.2L353.8 153.4L354.4 152.5L355.0 151.7L355.6 150.8L356.2 150.0L356.8 149.1L357.4 148.3L358.0 147.4L358.6 146.6L359.2 145.7L359.8 144.9L360.4 144.0L361.0 143.1L361.6 142.3L362.2 141.4L362.7 140.6L363.3 139.7L363.9 138.8L364.5 138.0L365.1 137.1L365.6 136.2L366.2 135.4L366.8 134.5L367.4 133.6L367.9 132.8L368.5 131.9L369.1 131.0L369.6 130.1L370.2 129.3L370.8 128.4L371.3 127.5L371.9 126.6L372.4 125.7L373.0 124.9L373.5 124.0L374.1 123.1L374.6 122.2L375.2 121.3L375.7 120.4L376.3 119.6L376.8 118.7L377.3 117.8L377.9 116.9L378.4 116.0L378.9 115.1L379.5 114.2L380.0 113.3L380.5 112.4L381.0 111.5L381.6 110.6L382.1 109.7L382.6 108.8L383.1 107.9L383.6 107.0L384.1 106.1L384.7 105.2L385.2 104.3L385.7 103.4L386.2 102.5L386.7 101.6L387.2 100.7L387.7 99.8L388.2 98.9L388.7 98.0L389.1 97.1L389.6 96.1L390.1 95.2L390.6 94.3L391.1 93.4L391.6 92.5L392.0 91.6L392.5 90.6L393.0 89.7L393.5 88.8L393.9 87.9L394.4 87.0L394.9 86.0L395.3 85.1L395.8 84.2L396.3 83.2L396.7 82.3L397.2 81.4L397.6 80.5L398.1 79.5L398.5 78.6L399.0 77.7L399.4 76.7L399.8 75.8L400.3 74.9L400.7 73.9L401.2 73.0L401.6 72.0L402.0 71.1L402.4 70.2L402.9 69.2L403.3 68.3L403.7 67.3L404.1 66.4L404.6 65.4L405.0 64.5L405.4 63.5L405.8 62.6L406.2 61.7L406.6 60.7L407.1 59.7L407.5 58.8L407.9 57.8L408.3 56.9L408.7 55.9L409.1 55.0L409.5 54.0L409.9 53.1L410.3 52.1L410.7 51.1L411.0 50.2L411.4 49.2L411.8 48.3L412.2 47.3L412.6 46.3L413.0 45.4L413.4 44.4L413.8 43.4L414.1 42.5L414.5 41.5L414.9 40.5L415.3 39.6L415.6 38.6L416.0 37.6L416.4 36.6L416.7 35.7L417.1 34.7L417.5 33.7L417.9 32.7L418.2 31.7L418.6 30.8L418.9 29.8L419.3 28.8L419.7 27.8L420.0 26.8L420.4 25.9L420.7 24.9L421.1 23.9L421.4 22.9L421.8 21.9L422.1 20.9L422.5 19.9L422.8 18.9L423.2 18.0L423.5 17.0L423.9 16.0L424.2 15.0L424.6 14.0L424.9 13.0L425.3 12.0L425.6 11.0L425.9 10.0L426.3 9.0L426.6 8.0L426.9 7.0L427.3 6.0L427.6 5.0L428.0 4.0L428.3 3.0" stroke="#4a4a4a" stroke-width="1.3" stroke-dasharray="1.3 3.7"/>
<path d="M159.2 531.7L159.4 530.8L159.6 529.8L159.9 528.9L160.1 528.0L160.3 527.0L160.5 526.1L160.8 525.2L161.0 524.2L161.2 523.3L161.4 522.4L161.7 521.5L161.9 520.5L162.1 519.6L162.4 518.7L162.6 517.7L162.8 516.8L163.1 515.9L163.3 514.9L163.5 514.0L163.8 513.1L164.0 512.1L164.3 511.2L164.5 510.3L164.7 509.3L165.0 508.4L165.2 507.5L165.5 506.6L165.7 505.6L165.9 504.7L166.2 503.8L166.4 502.8L166.7 501.9L166.9 501.0L167.2 500.0L167.4 499.1L167.7 498.2L167.9 497.2L168.2 496.3L168.4 495.4L168.7 494.5L168.9 493.5L169.2 492.6L169.4 491.7L169.7 490.7L169.9 489.8L170.2 488.9L170.4 487.9L170.7 487.0L171.0 486.1L171.2 485.2L171.5 484.2L171.7 483.3L172.0 482.4L172.3 481.4L172.5 480.5L172.8 479.6L173.0 478.6L173.3 477.7L173.6 476.8L173.8 475.9L174.1 474.9L174.4 474.0L174.6 473.1L174.9 472.1L175.2 471.2L175.4 470.3L175.7 469.4L176.0 468.4L176.3 467.5L176.5 466.6L176.8 465.7L177.1 464.7L177.3 463.8L177.6 462.9L177.9 462.0L178.2 461.0L178.4 460.1L178.7 459.2L179.0 458.3L179.3 457.3L179.6 456.4L179.8 455.5L180.1 454.6L180.4 453.6L180.7 452.7L181.0 451.8L181.2 450.9L181.5 449.9L181.8 449.0L182.1 448.1L182.4 447.2L182.7 446.3L183.0 445.3L183.2 444.4L183.5 443.5L183.8 442.6L184.1 441.6L184.4 440.7L184.7 439.8L185.0 438.9L185.3 438.0L185.6 437.0L185.9 436.1L186.1 435.2L186.4 434.3L186.7 433.4L187.0 432.5L187.3 431.5L187.6 430.6L187.9 429.7L188.2 428.8L188.5 427.9L188.8 427.0L189.1 426.0L189.4 425.1L189.7 424.2L190.0 423.3L190.3 422.4L190.6 421.5L190.9 420.6L191.2 419.7L191.5 418.7L191.8 417.8L192.2 416.9L192.5 416.0L192.8 415.1L193.1 414.2L193.4 413.3L193.7 412.4L194.0 411.5L194.3 410.6L194.7 409.6L195.0 408.7L195.3 407.8L195.6 406.9L195.9 406.0L196.2 405.1L196.6 404.2L196.9 403.3L197.2 402.4L197.5 401.5L197.9 400.6L198.2 399.7L198.5 398.8L198.9 397.9L199.2 397.0L199.5 396.1L199.9 395.2L200.2 394.3L200.5 393.4L200.9 392.5L201.2 391.6L201.5 390.7L201.9 389.8L202.2 388.9L202.6 388.0L202.9 387.1L203.3 386.2L203.6 385.3L204.0 384.4L204.3 383.5L204.7 382.6L205.0 381.7L205.4 380.8L205.7 380.0L206.1 379.1L206.5 378.2L206.8 377.3L207.2 376.4L207.5 375.5L207.9 374.6L208.3 373.7L208.7 372.8L209.0 372.0L209.4 371.1L209.8 370.2L210.2 369.3L210.5 368.4L210.9 367.5L211.3 366.6L211.7 365.8L212.1 364.9L212.5 364.0L212.8 363.1L213.2 362.2L213.6 361.4L214.0 360.5L214.4 359.6L214.8 358.7L215.2 357.8L215.6 357.0L216.0 356.1L216.4 355.2L216.8 354.3L217.2 353.5L217.6 352.6L218.0 351.7L218.4 350.9L218.9 350.0L219.3 349.1L219.7 348.2L220.1 347.4L220.5 346.5L220.9 345.6L221.4 344.8L221.8 343.9L222.2 343.0L222.6 342.2L223.1 341.3L223.5 340.5L223.9 339.6L224.4 338.7L224.8 337.9L225.2 337.0L225.7 336.2L226.1 335.3L226.5 334.4L227.0 333.6L227.4 332.7L227.9 331.9L228.3 331.0L228.8 330.2L229.2 329.3L229.7 328.5L230.1 327.6L230.6 326.8L231.0 325.9L231.5 325.1L231.9 324.2L232.4 323.4L232.9 322.5L233.3 321.7L233.8 320.8L234.3 320.0L234.7 319.1L235.2 318.3L235.7 317.4L236.1 316.6L236.6 315.8L237.1 314.9L237.6 314.1L238.0 313.2L238.5 312.4L239.0 311.6L239.5 310.7L240.0 309.9L240.5 309.1L240.9 308.2L241.4 307.4L241.9 306.6L242.4 305.7L242.9 304.9L243.4 304.1L243.9 303.3L244.4 302.4L244.9 301.6L245.4 300.8L245.9 300.0L246.4 299.1L246.9 298.3L247.4 297.5L247.9 296.7L248.4 295.9L248.9 295.0L249.4 294.2L249.9 293.4L250.5 292.6L251.0 291.8L251.5 291.0L252.0 290.1L252.5 289.3L253.0 288.5L253.6 287.7L254.1 286.9L254.6 286.1L255.1 285.3L255.7 284.5L256.2 283.7L256.7 282.9L257.3 282.1L257.8 281.3L258.3 280.5L258.9 279.7L259.4 278.9L259.9 278.1L260.5 277.3L261.0 276.5L261.6 275.7L262.1 274.9L262.6 274.1L263.2 273.3L263.7 272.5L264.3 271.7L264.8 270.9L265.4 270.1L265.9 269.4L266.5 268.6L267.1 267.8L267.6 267.0L268.6 267.3L269.5 267.6L270.5 267.9L271.5 268.3L272.4 268.6L273.4 269.0L274.3 269.4L275.3 269.8L276.3 270.2L277.2 270.6L278.2 271.1L279.2 271.5L280.1 272.0L281.1 272.4L282.0 272.9L283.0 273.3L284.0 273.8L284.9 274.3L285.9 274.7L286.9 275.2L287.8 275.7L288.8 276.2L289.8 276.6L290.7 277.1L291.7 277.6L292.6 278.0L293.6 278.5L294.6 278.9L295.5 279.3L296.5 279.8L297.5 280.2L298.4 280.6L299.4 281.0L300.4 281.4L301.3 281.8L302.3 282.2L303.2 282.5L304.2 282.8L305.2 283.2L306.1 283.5L307.1 283.7L308.1 284.0L309.0 284.2L310.0 284.5L310.9 284.7L311.9 284.9L312.9 285.0L313.8 285.1L314.8 285.3L315.8 285.3L316.7 285.4L317.7 285.4L318.7 285.5L319.6 285.4L320.6 285.4L321.5 285.4L322.5 285.3L323.5 285.2L324.4 285.1L325.4 284.9L326.4 284.7L327.3 284.6L328.3 284.3L329.3 284.1L330.2 283.8L331.2 283.6L332.1 283.3L333.1 282.9L334.1 282.6L335.0 282.2L336.0 281.8L337.0 281.4L337.9 281.0L338.9 280.5L339.8 280.1L340.8 279.6L341.8 279.1L342.7 278.5L343.7 278.0L344.7 277.4L345.6 276.8L346.6 276.2L347.6 275.6L348.5 275.0L349.5 274.4L350.4 273.7L351.4 273.1L352.4 272.4L353.3 271.7L354.3 271.0L355.3 270.3L356.2 269.6L357.2 268.9L358.2 268.2L359.1 267.5L360.1 266.7L361.0 266.0L362.0 265.2L363.0 264.5L363.9 263.7L364.9 263.0L365.9 262.2L366.8 261.5L367.8 260.7L368.7 259.9L369.7 259.1L370.7 258.4L371.6 257.6L372.6 256.8L373.6 256.0L374.5 255.3L375.5 254.5L376.5 253.7L377.4 252.9L378.4 252.1L379.3 251.3L380.3 250.5L381.3 249.8L382.2 249.0L383.2 248.2L384.2 247.4L385.1 246.6L386.1 245.9L387.1 245.1L388.0 244.3L389.0 243.6L389.9 242.8L390.9 242.0L391.9 241.3L392.8 240.5L393.8 239.8L394.8 239.1L395.7 238.3L396.7 237.6L397.6 236.9L398.6 236.2L399.6 235.4L400.5 234.7L401.5 234.0L402.5 233.4L403.4 232.7L404.4 232.0L405.4 231.3L406.3 230.7L407.3 230.0L408.2 229.4L409.2 228.8L410.2 228.1L411.1 227.5L412.1 226.9L413.1 226.4L414.0 225.8L415.0 225.2L416.0 224.7L416.9 224.1L417.9 223.6L418.8 223.1L419.8 222.6L420.8 222.1L421.7 221.6L422.7 221.1L423.7 220.7L424.6 220.2L425.6 219.8L426.5 219.4L427.5 218.9L428.5 218.5L429.4 218.1L430.4 217.8L431.4 217.4L432.3 217.0L433.3 216.7L434.3 216.3L435.2 216.0L436.2 215.7L437.1 215.4L438.1 215.0L439.1 214.7L440.0 214.5L441.0 214.2L442.0 213.9L442.9 213.6L443.9 213.4L444.9 213.1L445.8 212.9L446.8 212.6L447.7 212.4L448.7 212.2L449.7 212.0L450.6 211.7L451.6 211.5L452.6 211.3L453.5 211.1L454.5 211.0L455.4 210.8L456.4 210.6L457.4 210.4L458.3 210.3L459.3 210.1L460.3 209.9L461.2 209.8L462.2 209.6L463.2 209.5L464.1 209.3L465.1 209.2L466.0 209.1L467.0 209.0L468.0 208.8L468.9 208.7L469.9 208.6L470.9 208.5L471.8 208.4L472.8 208.3L473.8 208.2L474.7 208.1L475.7 208.0L476.6 207.9L477.6 207.9L478.6 207.8L479.5 207.7L480.5 207.6L481.5 207.6L482.4 207.5L483.4 207.5L484.3 207.4L485.3 207.4L486.3 207.3L487.2 207.3L488.2 207.2L489.2 207.2L490.1 207.2L491.1 207.1L492.1 207.1L493.0 207.1L494.0 207.1L494.9 207.0L495.9 207.0L496.9 207.0L497.8 207.0L498.8 207.0L499.8 207.0L500.7 207.0L501.7 207.0L502.7 207.0L503.6 207.0L504.6 207.0L505.5 207.0L506.5 207.1L507.5 207.1L508.4 207.1L509.4 207.1L510.4 207.1L511.3 207.2L512.3 207.2L513.2 207.2L514.2 207.3L515.2 207.3L516.1 207.3L517.1 207.4L518.1 207.4L519.0 207.5L520.0 207.5L521.0 207.6L521.9 207.6L522.9 207.7L523.8 207.7L524.8 207.8L525.8 207.8L526.7 207.9L527.7 207.9L528.7 208.0L529.6 208.0L530.6 208.1L531.6 208.2L532.5 208.2L533.5 208.3L534.4 208.3L535.4 208.4L536.4 208.5L537.3 208.5L538.3 208.6L539.3 208.7L540.2 208.7L541.2 208.8L542.1 208.9L543.1 209.0L544.1 209.0L545.0 209.1L546.0 209.2L547.0 209.2L547.9 209.3L548.9 209.4L549.9 209.4L550.8 209.5L551.8 209.6L552.7 209.7L553.7 209.7L554.7 209.8L555.6 209.9L556.6 210.0L557.6 210.0L558.5 210.1L559.5 210.2L560.5 210.2L561.4 210.3L562.4 210.4L563.3 210.4L564.3 210.5L565.3 210.6L566.2 210.6L567.2 210.7L568.2 210.8L569.1 210.8L570.1 210.9L571.0 211.0L572.0 211.0L573.0 211.1L573.9 211.1L574.9 211.2" stroke="#4a4a4a" stroke-width="1.3" stroke-dasharray="1.3 3.7"/>
<path d="M130.0 530.9L130.5 529.4L131.0 528.0L131.6 526.5L132.1 525.0L132.6 523.5L133.2 522.1L133.7 520.6L134.2 519.1L134.7 517.7L135.3 516.2L135.8 514.7L136.3 513.2L136.9 511.8L137.4 510.3L138.0 508.8L138.5 507.4L139.0 505.9L139.6 504.4L140.1 503.0L140.7 501.5L141.2 500.0L141.8 498.6L142.3 497.1L142.9 495.6L143.4 494.2L144.0 492.7L144.5 491.2L145.1 489.8L145.6 488.3L146.2 486.9L146.7 485.4L147.3 483.9L147.9 482.5L148.4 481.0L149.0 479.5L149.5 478.1L150.1 476.6L150.7 475.2L151.2 473.7L151.8 472.2L152.4 470.8L152.9 469.3L153.5 467.9L154.1 466.4L154.7 464.9L155.2 463.5L155.8 462.0L156.4 460.6L156.9 459.1L157.5 457.6L158.1 456.2L158.7 454.7L159.3 453.3L159.8 451.8L160.4 450.4L161.0 448.9L161.6 447.5L162.2 446.0L162.7 444.6L163.3 443.1L163.9 441.6L164.5 440.2L165.1 438.7L165.7 437.3L166.3 435.8L166.8 434.4L167.4 432.9L168.0 431.5L168.6 430.0L169.2 428.6L169.8 427.1L170.4 425.7L171.0 424.2L171.6 422.8L172.2 421.3L172.8 419.9L173.4 418.4L174.0 417.0L174.6 415.5L175.2 414.1L175.8 412.6L176.4 411.2L177.0 409.8L177.6 408.3L178.2 406.9L178.8 405.4L179.4 404.0L180.0 402.5L180.6 401.1L181.2 399.6L181.8 398.2L182.4 396.8L183.0 395.3L183.6 393.9L184.2 392.4L184.8 391.0L185.4 389.5L186.0 388.1L186.6 386.7L187.2 385.2L187.9 383.8L188.5 382.4L189.1 380.9L189.7 379.5L190.3 378.0L190.9 376.6L191.6 375.2L192.2 373.7L192.8 372.3L193.5 370.9L194.1 369.5L194.7 368.0L195.4 366.6L196.0 365.2L196.7 363.8L197.3 362.3L198.0 360.9L198.6 359.5L199.3 358.1L199.9 356.7L200.6 355.3L201.3 353.9L202.0 352.4L202.6 351.0L203.3 349.6L204.0 348.2L204.7 346.8L205.4 345.4L206.1 344.0L206.8 342.6L207.5 341.3L208.3 339.9L209.0 338.5L209.7 337.1L210.4 335.7L211.2 334.3L211.9 333.0L212.7 331.6L213.5 330.2L214.2 328.9L215.0 327.5L215.8 326.1L216.6 324.8L217.4 323.4L218.1 322.1L219.0 320.7L219.8 319.4L220.6 318.0L221.4 316.7L222.2 315.4L223.1 314.0L223.9 312.7L224.8 311.4L225.6 310.1L226.5 308.7L227.4 307.4L228.2 306.1L229.1 304.8L230.0 303.5L230.9 302.2L231.8 300.9L232.8 299.7L233.7 298.4L234.6 297.1L235.6 295.9L236.6 294.6L237.5 293.4L238.5 292.2L239.5 291.0L240.5 289.8L241.5 288.6L242.6 287.4L243.6 286.3L244.7 285.1L245.7 284.0L246.8 282.9L247.9 281.8L249.0 280.7L250.2 279.6L251.3 278.5L252.5 277.5L253.6 276.5L254.8 275.5L256.0 274.5L257.2 273.5L258.5 272.6L259.7 271.6L261.0 270.7L262.3 269.8L263.6 269.0L264.9 268.1L266.2 267.3L267.5 266.5L268.9 265.7L270.3 265.0L271.6 264.2L273.0 263.5L274.4 262.8L275.8 262.1L277.2 261.5L278.6 260.8L280.0 260.2L281.4 259.5L282.9 258.9L284.3 258.3L285.7 257.6L287.2 257.0L288.6 256.4L290.0 255.8L291.5 255.1L292.9 254.5L294.3 253.9L295.8 253.2L297.2 252.6L298.6 251.9L300.0 251.3L301.4 250.6L302.8 249.9L304.2 249.2L305.6 248.4L307.0 247.7L308.4 247.0L309.8 246.2L311.1 245.4L312.5 244.6L313.9 243.8L315.2 243.0L316.6 242.2L317.9 241.4L319.2 240.6L320.6 239.7L321.9 238.8L323.2 238.0L324.5 237.1L325.8 236.2L327.1 235.3L328.4 234.4L329.7 233.4L330.9 232.5L332.2 231.6L333.4 230.6L334.7 229.6L335.9 228.7L337.2 227.7L338.4 226.7L339.6 225.7L340.8 224.7L342.0 223.7L343.2 222.6L344.3 221.6L345.5 220.6L346.7 219.5L347.8 218.5L349.0 217.4L350.1 216.3L351.2 215.2L352.3 214.2L353.4 213.1L354.5 212.0L355.6 210.8L356.7 209.7L357.8 208.6L358.9 207.5L359.9 206.3L361.0 205.2L362.0 204.0L363.1 202.9L364.1 201.7L365.2 200.6L366.2 199.4L367.2 198.2L368.2 197.0L369.2 195.8L370.2 194.6L371.2 193.4L372.2 192.2L373.2 191.0L374.2 189.8L375.1 188.6L376.1 187.4L377.1 186.2L378.0 184.9L379.0 183.7L379.9 182.5L380.9 181.2L381.8 180.0L382.8 178.7L383.7 177.5L384.6 176.2L385.5 175.0L386.5 173.7L387.4 172.5L388.3 171.2L389.2 169.9L390.1 168.7L391.0 167.4L392.0 166.1L392.9 164.8L393.8 163.6L394.7 162.3L395.6 161.0L396.5 159.7L397.3 158.4L398.2 157.1L399.1 155.9L400.0 154.6L400.9 153.3L401.8 152.0L402.6 150.7L403.5 149.4L404.4 148.1L405.3 146.8L406.1 145.5L407.0 144.2L407.9 142.9L408.7 141.6L409.6 140.3L410.4 139.0L411.3 137.6L412.1 136.3L413.0 135.0L413.8 133.7L414.7 132.4L415.5 131.1L416.4 129.7L417.2 128.4L418.1 127.1L418.9 125.8L419.7 124.4L420.6 123.1L421.4 121.8L422.2 120.5L423.1 119.1L423.9 117.8L424.7 116.5L425.5 115.1L426.3 113.8L427.2 112.5L428.0 111.1L428.8 109.8L429.6 108.4L430.4 107.1L431.2 105.8L432.0 104.4L432.9 103.1L433.7 101.7L434.5 100.4L435.3 99.0L436.1 97.7L436.9 96.3L437.7 95.0L438.5 93.6L439.3 92.3L440.1 90.9L440.9 89.6L441.7 88.2L442.5 86.9L443.2 85.5L444.0 84.1L444.8 82.8L445.6 81.4L446.4 80.1L447.2 78.7L448.0 77.4L448.7 76.0L449.5 74.6L450.3 73.3L451.1 71.9L451.9 70.6L452.7 69.2L453.4 67.8L454.2 66.5L455.0 65.1L455.8 63.7L456.5 62.4L457.3 61.0L458.1 59.6L458.9 58.3L459.6 56.9L460.4 55.6L461.2 54.2L461.9 52.8L462.7 51.5L463.5 50.1L464.2 48.7L465.0 47.4L465.8 46.0L466.5 44.6L467.3 43.3L468.1 41.9L468.8 40.5L469.6 39.2L470.4 37.8L471.1 36.4L471.9 35.1L472.7 33.7L473.4 32.3L474.2 31.0L475.0 29.6L475.7 28.2L476.5 26.9L477.2 25.5L478.0 24.2L478.8 22.8L479.5 21.4L480.3 20.1L481.0 18.7L481.8 17.3L482.6 16.0L483.3 14.6L484.1 13.3L484.9 11.9L485.6 10.5L486.4 9.2L487.1 7.8L487.9 6.5L488.7 5.1L489.4 3.8L490.2 2.4" stroke="#2b2b2b" stroke-width="2.0" stroke-linejoin="round"/>
</g>

<!-- axes -->
<g stroke="#202020" stroke-width="1.5" fill="none">
<line x1="65.8" y1="2.4" x2="65.8" y2="532.45"/>
<line x1="65.05" y1="531.7" x2="595" y2="531.7"/>
</g>
<g stroke="#3c3c3c" stroke-width="1.1" fill="none">
<line x1="87.6" y1="531.7" x2="87.6" y2="537.9"/>
<line x1="165.1" y1="531.7" x2="165.1" y2="537.9"/>
<line x1="242.6" y1="531.7" x2="242.6" y2="537.9"/>
<line x1="320.1" y1="531.7" x2="320.1" y2="537.9"/>
<line x1="397.6" y1="531.7" x2="397.6" y2="537.9"/>
<line x1="475.1" y1="531.7" x2="475.1" y2="537.9"/>
<line x1="552.6" y1="531.7" x2="552.6" y2="537.9"/>
<line x1="59.2" y1="22.1" x2="65.8" y2="22.1"/>
<line x1="59.2" y1="95.8" x2="65.8" y2="95.8"/>
<line x1="59.2" y1="193.3" x2="65.8" y2="193.3"/>
<line x1="59.2" y1="267.0" x2="65.8" y2="267.0"/>
<line x1="59.2" y1="340.7" x2="65.8" y2="340.7"/>
<line x1="59.2" y1="438.2" x2="65.8" y2="438.2"/>
<line x1="59.2" y1="511.9" x2="65.8" y2="511.9"/>
</g>
<g class="tick">
<text x="88.4" y="553.6" text-anchor="middle">5</text>
<text x="165.9" y="553.6" text-anchor="middle">10</text>
<text x="243.4" y="553.6" text-anchor="middle">15</text>
<text x="320.9" y="553.6" text-anchor="middle">20</text>
<text x="398.4" y="553.6" text-anchor="middle">25</text>
<text x="475.9" y="553.6" text-anchor="middle">30</text>
<text x="553.4" y="553.6" text-anchor="middle">35</text>
<text x="56.1" y="26.2" text-anchor="end">10.0</text>
<text x="56.1" y="99.9" text-anchor="end">5.0</text>
<text x="56.1" y="197.4" text-anchor="end">2.0</text>
<text x="56.1" y="271.1" text-anchor="end">1.0</text>
<text x="56.1" y="344.8" text-anchor="end">0.5</text>
<text x="56.1" y="442.3" text-anchor="end">0.2</text>
<text x="56.1" y="516.0" text-anchor="end">0.1</text>
</g>

<!-- annotations -->
<text x="183.4" y="23.5" font-size="15" font-weight="bold" font-style="italic" fill="#0c0c0c" stroke="#0c0c0c" stroke-width="0.2" textLength="178.3" lengthAdjust="spacingAndGlyphs">P for non&#8722;linearity: 0.123</text>
<text x="219.5" y="242.5" font-size="11.6" font-weight="bold" font-style="italic" fill="#1c8c8a" stroke="#1c8c8a" stroke-width="0.15" textLength="89.5" lengthAdjust="spacingAndGlyphs">Ref. point = 16.6</text>

<!-- axis titles -->
<g class="serif" font-size="21">
<text x="274.8" y="583.8" textLength="20.6" lengthAdjust="spacingAndGlyphs">EP</text>
<text x="305.9" y="583.8" textLength="69.4" lengthAdjust="spacingAndGlyphs">(J/min)</text>
</g>
<g class="serif" font-size="21" transform="translate(17.2 441.8) rotate(-90)">
<text x="0" y="0" textLength="46.8" lengthAdjust="spacingAndGlyphs">Odds</text>
<text x="52.9" y="0" textLength="48" lengthAdjust="spacingAndGlyphs">Ratio</text>
<text x="108.3" y="0" textLength="20" lengthAdjust="spacingAndGlyphs">of</text>
<text x="135.8" y="0" textLength="94.8" lengthAdjust="spacingAndGlyphs">moderate</text>
<text x="232.2" y="0" textLength="5.6" lengthAdjust="spacingAndGlyphs">-</text>
<text x="240.9" y="0" textLength="58.7" lengthAdjust="spacingAndGlyphs">severe</text>
<text x="307.3" y="0" textLength="48.4" lengthAdjust="spacingAndGlyphs">ARDS</text>
</g>
</svg>
</body>
</html>
